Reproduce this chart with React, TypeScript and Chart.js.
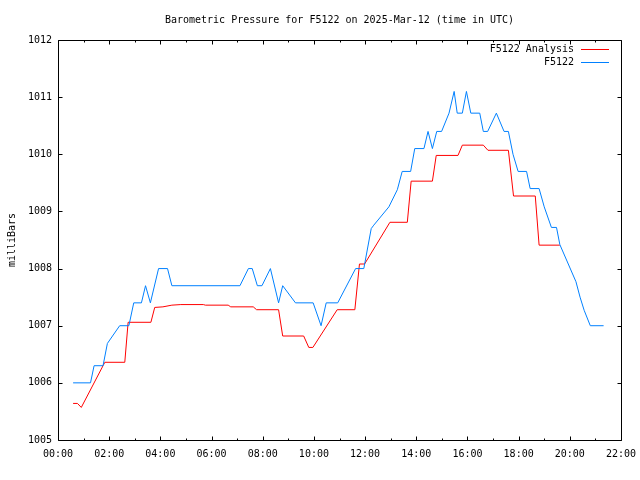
import { useEffect, useRef } from "react";
import { Chart, registerables } from "chart.js";

Chart.register(...registerables);

const chartTitle = "Barometric Pressure for F5122 on 2025-Mar-12 (time in UTC)";
const yAxisTitle = "milliBars";
const xTickLabels = ["00:00", "02:00", "04:00", "06:00", "08:00", "10:00", "12:00", "14:00", "16:00", "18:00", "20:00", "22:00"];
const yMin = 1005;
const yMax = 1012;

const analysisLabel = "F5122 Analysis";
const analysisHours = [0.59, 0.76, 0.91, 1.76, 1.83, 2.61, 2.74, 3.63, 3.78, 4.1, 4.45, 4.8, 5.68, 5.76, 6.65, 6.75, 7.63, 7.76, 8.62, 8.78, 9.6, 9.8, 9.96, 10.91, 11.6, 11.78, 11.98, 12.97, 13.65, 13.8, 14.63, 14.78, 15.63, 15.8, 16.62, 16.8, 17.6, 17.8, 18.65, 18.8, 19.61];
const analysisValues = [1005.64, 1005.64, 1005.57, 1006.3, 1006.36, 1006.36, 1007.06, 1007.06, 1007.32, 1007.33, 1007.36, 1007.37, 1007.37, 1007.36, 1007.36, 1007.33, 1007.33, 1007.28, 1007.28, 1006.82, 1006.82, 1006.62, 1006.62, 1007.28, 1007.28, 1008.08, 1008.08, 1008.81, 1008.81, 1009.53, 1009.53, 1009.98, 1009.98, 1010.16, 1010.16, 1010.07, 1010.07, 1009.27, 1009.27, 1008.41, 1008.41];

const stationLabel = "F5122";
const stationHours = [0.59, 1.27, 1.41, 1.76, 1.93, 2.41, 2.77, 2.96, 3.26, 3.42, 3.61, 3.93, 4.28, 4.45, 7.11, 7.44, 7.59, 7.79, 7.97, 8.3, 8.62, 8.78, 9.28, 9.97, 10.28, 10.48, 10.93, 11.63, 11.95, 12.24, 12.34, 12.93, 13.26, 13.45, 13.78, 13.94, 14.3, 14.46, 14.63, 14.8, 14.99, 15.28, 15.48, 15.6, 15.8, 15.96, 16.13, 16.48, 16.62, 16.79, 17.13, 17.43, 17.6, 17.78, 17.98, 18.31, 18.45, 18.8, 19.0, 19.28, 19.48, 19.61, 20.24, 20.4, 20.56, 20.8, 21.32];
const stationValues = [1006.0, 1006.0, 1006.3, 1006.3, 1006.69, 1007.0, 1007.0, 1007.4, 1007.4, 1007.7, 1007.4, 1008.0, 1008.0, 1007.7, 1007.7, 1008.0, 1008.0, 1007.7, 1007.7, 1008.0, 1007.4, 1007.7, 1007.4, 1007.4, 1007.0, 1007.4, 1007.4, 1008.0, 1008.0, 1008.7, 1008.76, 1009.08, 1009.38, 1009.7, 1009.7, 1010.1, 1010.1, 1010.4, 1010.1, 1010.4, 1010.4, 1010.72, 1011.1, 1010.72, 1010.72, 1011.1, 1010.72, 1010.72, 1010.4, 1010.4, 1010.72, 1010.4, 1010.4, 1010.0, 1009.7, 1009.7, 1009.4, 1009.4, 1009.08, 1008.72, 1008.72, 1008.42, 1007.77, 1007.5, 1007.27, 1007.0, 1007.0];

const FONT = '"DejaVu Sans Mono", monospace';
const RED = "#ff0000";
const BLUE = "#0080ff";

const gnuFrame = {
  id: "gnuFrame",
  afterDatasetsDraw(chart: any) {
    const { ctx, chartArea: a, scales } = chart;
    const xs = scales.x;
    const ys = scales.y;
    ctx.save();
    ctx.strokeStyle = "#000";
    ctx.lineWidth = 1;
    const L = Math.round(a.left) + 0.5;
    const R = Math.round(a.right) + 0.5;
    const T = Math.round(a.top) + 0.5;
    const B = Math.round(a.bottom) + 0.5;
    ctx.beginPath();
    ctx.moveTo(L, T);
    ctx.lineTo(R, T);
    ctx.lineTo(R, B);
    ctx.lineTo(L, B);
    ctx.closePath();
    for (let h = 0; h <= 22; h++) {
      const px = Math.round(xs.getPixelForValue(h)) + 0.5;
      const len = h % 2 === 0 ? 4 : 2;
      ctx.moveTo(px, B);
      ctx.lineTo(px, B - len);
      ctx.moveTo(px, T);
      ctx.lineTo(px, T + len);
    }
    for (let v = yMin; v <= yMax; v++) {
      const py = Math.round(ys.getPixelForValue(v)) + 0.5;
      ctx.moveTo(L, py);
      ctx.lineTo(L + 4, py);
      ctx.moveTo(R, py);
      ctx.lineTo(R - 4, py);
    }
    ctx.stroke();

    // gnuplot-style key
    ctx.font = "10px " + FONT;
    ctx.textAlign = "right";
    ctx.textBaseline = "middle";
    ctx.fillStyle = "#000";
    chart.data.datasets.forEach((ds: any, i: number) => {
      const y = Math.round(a.top) + 9 + i * 13;
      ctx.fillText(ds.label, a.right - 47, y);
      ctx.beginPath();
      ctx.strokeStyle = ds.borderColor;
      ctx.moveTo(a.right - 40, y + 0.5);
      ctx.lineTo(a.right - 12, y + 0.5);
      ctx.stroke();
    });
    ctx.restore();
  },
};

export default function App() {
  const ref = useRef<HTMLCanvasElement>(null);
  useEffect(() => {
    if (!ref.current) return;
    const chart = new Chart(ref.current, {
      type: "line",
      data: {
        datasets: [
          {
            label: analysisLabel,
            data: analysisHours.map((h, i) => ({ x: h, y: analysisValues[i] })),
            borderColor: RED,
            backgroundColor: RED,
            borderWidth: 1,
            pointRadius: 0,
            tension: 0,
            order: 2,
          },
          {
            label: stationLabel,
            data: stationHours.map((h, i) => ({ x: h, y: stationValues[i] })),
            borderColor: BLUE,
            backgroundColor: BLUE,
            borderWidth: 1,
            pointRadius: 0,
            tension: 0,
            order: 1,
          },
        ],
      },
      options: {
        responsive: false,
        animation: false,
        devicePixelRatio: 1,
        layout: { padding: { left: 0, right: 19, top: 0, bottom: 0 } },
        plugins: {
          legend: { display: false },
          tooltip: { enabled: false },
          title: {
            display: true,
            text: chartTitle,
            fullSize: false,
            color: "#000",
            font: { family: FONT, size: 10, weight: "normal" as any, lineHeight: 1.2 },
            padding: { top: 14, bottom: 14 },
          },
        },
        scales: {
          x: {
            type: "linear",
            min: 0,
            max: 22,
            grid: { display: false, drawTicks: false },
            border: { display: false },
            ticks: {
              stepSize: 2,
              autoSkip: false,
              maxRotation: 0,
              color: "#000",
              padding: 8,
              font: { family: FONT, size: 10 },
              callback: (v: any) => xTickLabels[Math.round(Number(v) / 2)] ?? "",
            },
            afterFit: (s: any) => {
              s.height = 40;
              s.paddingLeft = 0;
              s.paddingRight = 0;
            },
          },
          y: {
            type: "linear",
            min: yMin,
            max: yMax,
            grid: { display: false, drawTicks: false },
            border: { display: false },
            title: {
              display: true,
              text: yAxisTitle,
              color: "#000",
              font: { family: FONT, size: 10, lineHeight: 1.2 },
              padding: { top: 6, bottom: 0 },
            },
            ticks: {
              stepSize: 1,
              color: "#000",
              padding: 6,
              font: { family: FONT, size: 10 },
              callback: (v: any) => String(v),
            },
            afterFit: (s: any) => {
              s.width = 58;
            },
          },
        },
      },
      plugins: [gnuFrame],
    });
    return () => chart.destroy();
  }, []);
  return (
    <div style={{ position: "fixed", left: 0, top: 0, width: 640, height: 480, background: "#fff" }}>
      <canvas ref={ref} width={640} height={480} style={{ display: "block" }} />
    </div>
  );
}
